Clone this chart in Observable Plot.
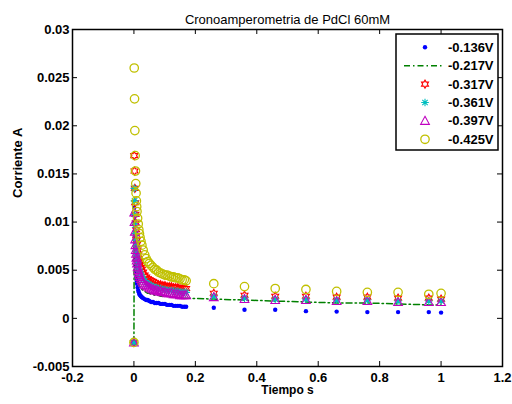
<!DOCTYPE html>
<html><head><meta charset="utf-8">
<script src="https://cdn.jsdelivr.net/npm/d3@7"></script>
<script src="https://cdn.jsdelivr.net/npm/@observablehq/plot@0.6"></script>
<style>
body{margin:0;background:#fff;}
#wrap{position:relative;width:512px;height:404px;font-family:"Liberation Sans",Arial,sans-serif;}
#wrap svg{display:block;}
#legend{position:absolute;left:0;top:0;pointer-events:none;}
</style></head><body><div id="wrap"></div>
<script>
const title = "Cronoamperometria de PdCl 60mM";
const xLabel = "Tiempo s";
const yLabel = "Corriente A";
const seriesNames = ["-0.136V","-0.217V","-0.317V","-0.361V","-0.397V","-0.425V"];

const time = [0,0.001,0.002,0.003,0.004,0.005,0.006,0.007,0.008,0.009,0.010,0.012,0.014,0.016,0.018,0.020,0.023,0.026,0.030,0.035,0.040,0.045,0.050,0.056,0.062,0.068,0.074,0.080,0.087,0.094,0.101,0.108,0.115,0.122,0.129,0.136,0.143,0.150,0.157,0.164,0.170,
  0.26,0.36,0.46,0.56,0.66,0.76,0.86,0.96,1.00];

const i136 = [-0.0025,0.0115,0.0100,0.0085,0.0072,0.0062,0.0054,0.0048,0.0043,0.0039,0.0036,0.0032,0.0029,0.0027,0.0025,0.0024,0.0023,0.0022,0.0021,0.0020,0.0019,0.0019,0.0018,0.0017,0.0017,0.0016,0.0016,0.0016,0.0015,0.0015,0.0015,0.0014,0.0014,0.0014,0.0013,0.0013,0.0013,0.0013,0.0012,0.0012,0.0012,
  0.0011,0.0009,0.0009,0.00075,0.0007,0.00065,0.00065,0.00065,0.0006];
const i217 = [-0.0025,0.0105,0.0092,0.0080,0.0071,0.0064,0.0058,0.0054,0.0050,0.0047,0.0045,0.0041,0.0038,0.0036,0.0034,0.0033,0.0031,0.0030,0.0029,0.0028,0.0027,0.0026,0.0026,0.0025,0.0025,0.0024,0.0024,0.0024,0.0023,0.0023,0.0023,0.0023,0.0022,0.0022,0.0022,0.0022,0.0022,0.0022,0.0022,0.0021,0.0021,
  0.0020,0.0019,0.0018,0.0017,0.0016,0.0016,0.0015,0.0014,0.0014];
const i317 = [-0.0025,0.0169,0.0153,0.0135,0.0120,0.0108,0.0099,0.0092,0.0086,0.0081,0.0077,0.0071,0.0066,0.0062,0.0059,0.0056,0.0053,0.0051,0.0048,0.0045,0.0043,0.0041,0.0040,0.0039,0.0038,0.0037,0.0036,0.0035,0.0035,0.0034,0.0034,0.0033,0.0033,0.0033,0.0032,0.0032,0.0032,0.0031,0.0031,0.0031,0.0031,
  0.0026,0.0024,0.0023,0.0023,0.0022,0.0022,0.0021,0.0021,0.0020];
const i361 = [-0.0025,0.0135,0.0122,0.0108,0.0097,0.0088,0.0081,0.0075,0.0070,0.0066,0.0063,0.0058,0.0054,0.0051,0.0049,0.0047,0.0045,0.0043,0.0041,0.0039,0.0037,0.0036,0.0035,0.0034,0.0033,0.0032,0.0032,0.0031,0.0031,0.0030,0.0030,0.0029,0.0029,0.0029,0.0028,0.0028,0.0028,0.0027,0.0027,0.0027,0.0027,
  0.0023,0.0021,0.0020,0.0020,0.0019,0.0019,0.0018,0.0018,0.0018];
const i397 = [-0.0025,0.0110,0.0100,0.0090,0.0082,0.0076,0.0071,0.0067,0.0063,0.0060,0.0057,0.0053,0.0050,0.0047,0.0045,0.0043,0.0041,0.0039,0.0037,0.0035,0.0034,0.0033,0.0032,0.0031,0.0030,0.0029,0.0029,0.0028,0.0028,0.0027,0.0027,0.0026,0.0026,0.0026,0.0025,0.0025,0.0025,0.0024,0.0024,0.0024,0.0024,
  0.0022,0.0020,0.0019,0.0019,0.0018,0.0018,0.0017,0.0017,0.0017];
const i425 = [-0.0025,0.0260,0.0228,0.0195,0.0169,0.0153,0.0140,0.0130,0.0122,0.0116,0.0111,0.0104,0.0098,0.0092,0.0088,0.0084,0.0080,0.0076,0.0071,0.0066,0.0062,0.0059,0.0057,0.0055,0.0053,0.0051,0.0050,0.0048,0.0047,0.0046,0.0045,0.0045,0.0044,0.0043,0.0043,0.0042,0.0042,0.0041,0.0040,0.0040,0.0039,
  0.0036,0.0033,0.0031,0.0030,0.0028,0.0027,0.0027,0.0025,0.0026];

const xTicks = [-0.2,0,0.2,0.4,0.6,0.8,1,1.2];
const xTickLabels = ["-0.2","0","0.2","0.4","0.6","0.8","1","1.2"];
const yTicks = [-0.005,0,0.005,0.01,0.015,0.02,0.025,0.03];
const yTickLabels = ["-0.005","0","0.005","0.01","0.015","0.02","0.025","0.03"];

const colors = ["#0000ff","#008000","#ff0000","#00bfbf","#c000c0","#c0c000"];

// custom MATLAB-like marker shapes
const hexagram = {draw(ctx, size){
  const R = Math.sqrt(size/Math.PI), r = R/Math.sqrt(3);
  for (let k = 0; k < 12; k++) {
    const a = -Math.PI/2 + k*Math.PI/6, rr = k % 2 ? r : R;
    const x = rr*Math.cos(a), y = rr*Math.sin(a);
    k ? ctx.lineTo(x, y) : ctx.moveTo(x, y);
  }
  ctx.closePath();
}};
const asterisk8 = {draw(ctx, size){
  const R = Math.sqrt(size/Math.PI), d = R*Math.SQRT1_2;
  ctx.moveTo(-R,0); ctx.lineTo(R,0); ctx.moveTo(0,-R); ctx.lineTo(0,R);
  ctx.moveTo(-d,-d); ctx.lineTo(d,d); ctx.moveTo(-d,d); ctx.lineTo(d,-d);
}};
const triUp = {draw(ctx, size){
  const R = Math.sqrt(size/Math.PI);
  ctx.moveTo(0,-R); ctx.lineTo(R*0.95,R*0.75); ctx.lineTo(-R*0.95,R*0.75); ctx.closePath();
}};

const rows = (vals) => time.map((t, i) => ({t, v: vals[i]}));
const xFmt = new Map(xTicks.map((d, i) => [d, xTickLabels[i]]));
const yFmt = new Map(yTicks.map((d, i) => [d, yTickLabels[i]]));

const H = 404, W = 512, mL = 72, mR = 10, mT = 29, mB = 38;
const innerW = W - mL - mR, innerH = H - mT - mB, tick = 5;

const plot = Plot.plot({
  width: W, height: H, marginLeft: mL, marginRight: mR, marginTop: mT, marginBottom: mB,
  style: {fontFamily: '"Liberation Sans", Arial, sans-serif', background: "white", color: "black", overflow: "visible"},
  x: {domain: [-0.2, 1.2]},
  y: {domain: [-0.005, 0.03]},
  marks: [
    Plot.dot(rows(i136), {x: "t", y: "v", r: 2.2, fill: colors[0], stroke: "none", symbol: "circle"}),
    Plot.line(rows(i217), {x: "t", y: "v", stroke: colors[1], strokeWidth: 1.5, strokeDasharray: "6,3,1.5,3"}),
    Plot.dot(rows(i317), {x: "t", y: "v", r: 4, fill: "none", stroke: colors[2], strokeWidth: 1.1, symbol: hexagram}),
    Plot.dot(rows(i361), {x: "t", y: "v", r: 3.8, fill: "none", stroke: colors[3], strokeWidth: 1.1, symbol: asterisk8}),
    Plot.dot(rows(i397), {x: "t", y: "v", r: 4.6, fill: "none", stroke: colors[4], strokeWidth: 1.1, symbol: triUp}),
    Plot.dot(rows(i425), {x: "t", y: "v", r: 4.2, fill: "none", stroke: colors[5], strokeWidth: 1.3, symbol: "circle"}),
    Plot.gridX(xTicks, {stroke: "black", strokeOpacity: 1, strokeWidth: 1, insetTop: innerH - tick}),
    Plot.gridX(xTicks, {stroke: "black", strokeOpacity: 1, strokeWidth: 1, insetBottom: innerH - tick}),
    Plot.gridY(yTicks, {stroke: "black", strokeOpacity: 1, strokeWidth: 1, insetRight: innerW - tick}),
    Plot.gridY(yTicks, {stroke: "black", strokeOpacity: 1, strokeWidth: 1, insetLeft: innerW - tick}),
    Plot.frame({stroke: "black", strokeWidth: 1.5}),
    Plot.axisX(xTicks, {anchor: "bottom", tickSize: 0, tickPadding: 6, tickFormat: d => xFmt.get(d), fontSize: 13, fontWeight: "bold", label: null}),
    Plot.axisY(yTicks, {anchor: "left", tickSize: 0, tickPadding: 3, tickFormat: d => yFmt.get(d), fontSize: 13, fontWeight: "bold", label: null}),
    Plot.text([title], {text: d => d, frameAnchor: "top", dy: -15, fontSize: 13, fill: "black"}),
    Plot.text([xLabel], {text: d => d, frameAnchor: "bottom", dy: 27, fontSize: 12, fontWeight: "bold", fill: "black"}),
    Plot.text([yLabel], {text: d => d, frameAnchor: "left", dx: -55, rotate: -90, fontSize: 13, fontWeight: "bold", fill: "black"})
  ]
});
const wrap = document.getElementById("wrap");
wrap.appendChild(plot);

// legend overlay (MATLAB style box)
const lg = d3.select(wrap).append("svg").attr("id", "legend").attr("width", W).attr("height", H);
const box = {x: 396, y: 34, w: 102, h: 116};
lg.append("rect").attr("x", box.x).attr("y", box.y).attr("width", box.w).attr("height", box.h)
  .attr("fill", "white").attr("stroke", "black").attr("stroke-width", 1.5);
const legendSpec = [
  {type: d3.symbolCircle, r: 2.2, fill: colors[0], stroke: "none"},
  {line: true},
  {type: hexagram, r: 4, fill: "none", stroke: colors[2], sw: 1.1},
  {type: asterisk8, r: 3.8, fill: "none", stroke: colors[3], sw: 1.1},
  {type: triUp, r: 4.6, fill: "none", stroke: colors[4], sw: 1.1},
  {type: d3.symbolCircle, r: 4.2, fill: "none", stroke: colors[5], sw: 1.3}
];
seriesNames.forEach((name, i) => {
  const cy = 47.3 + i * 18.4;
  const s = legendSpec[i];
  if (s.line) {
    lg.append("line").attr("x1", 404).attr("x2", 444).attr("y1", cy).attr("y2", cy)
      .attr("stroke", colors[1]).attr("stroke-width", 1.5).attr("stroke-dasharray", "6,3,1.5,3");
  } else {
    lg.append("path").attr("transform", `translate(425,${cy})`)
      .attr("d", d3.symbol().type(s.type).size(s.r * s.r * Math.PI)())
      .attr("fill", s.fill).attr("stroke", s.stroke).attr("stroke-width", s.sw || 1);
  }
  lg.append("text").attr("x", 448).attr("y", cy).attr("dy", "0.35em")
    .attr("font-family", '"Liberation Sans", Arial, sans-serif').attr("font-size", 13).attr("font-weight", "bold")
    .text(name);
});
</script></body></html>
